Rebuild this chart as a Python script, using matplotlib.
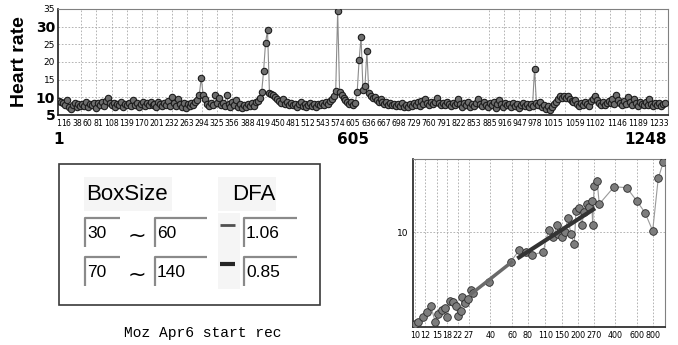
# Heart rate series, DFA log-log plot and box-size panel

import matplotlib
matplotlib.use('Agg')
import matplotlib.pyplot as plt
import numpy as np
from matplotlib.patches import Rectangle
from matplotlib.ticker import NullLocator

# heart rate, one value per 4 samples (sample 1 .. 1245)
hr = [
    9.0, 8.7, 8.4, 7.8, 9.2, 7.4, 6.6, 7.9, 8.3, 7.2, 8.1, 7.6,
    8.2, 7.5, 8.6, 7.3, 8.0, 7.7, 8.4, 7.1, 8.3, 7.9, 8.7, 7.6,
    9.1, 9.7, 8.5, 7.8, 8.4, 7.3, 8.1, 7.9, 8.6, 7.2, 8.2, 7.7,
    8.4, 7.6, 9.3, 7.8, 8.5, 7.4, 8.0, 8.7, 7.5, 8.3, 7.9, 8.6,
    7.7, 8.2, 7.4, 8.8, 8.1, 7.6, 8.4, 7.8, 8.9, 7.5, 10.0, 8.3,
    7.6, 9.6, 8.0, 7.2, 8.5, 6.9, 8.1, 7.5, 8.4, 7.8, 8.8, 9.2,
    10.8, 15.5, 10.6, 9.4, 8.2, 7.6, 8.5, 7.9, 10.7, 8.3, 9.9, 7.7,
    8.4, 7.5, 10.6, 8.0, 7.3, 8.6, 7.8, 9.2, 7.4, 8.1, 7.0, 7.8,
    7.2, 8.0, 7.5, 8.3, 7.6, 8.8, 9.1, 9.8, 11.5, 17.5, 25.5, 29.0,
    11.2, 11.0, 10.6, 10.2, 9.5, 9.0, 8.5, 9.4, 8.0, 8.7, 7.8, 8.4,
    7.7, 8.2, 7.4, 8.0, 8.6, 7.5, 8.1, 7.3, 7.9, 8.4, 7.6, 8.2,
    7.4, 8.0, 7.7, 8.3, 7.9, 8.6, 8.2, 9.0, 9.6, 10.5, 11.8, 34.5,
    11.5, 10.6, 9.8, 9.2, 8.6, 8.0, 8.8, 7.9, 8.5, 11.4, 20.5, 27.0,
    12.0, 13.2, 23.0, 11.3, 10.4, 9.7, 10.1, 9.2, 8.8, 9.4, 8.6, 8.1,
    8.7, 7.9, 8.4, 7.7, 8.2, 7.5, 8.0, 7.6, 8.3, 7.4, 7.9, 7.2,
    8.1, 7.6, 8.4, 7.8, 8.6, 7.5, 8.9, 8.2, 9.6, 8.4, 7.9, 8.6,
    8.1, 8.8, 9.7, 8.3, 7.8, 8.5, 7.9, 8.7, 8.2, 7.6, 8.4, 7.8,
    8.5, 9.5, 8.0, 7.4, 8.3, 7.7, 8.6, 7.2, 8.1, 7.6, 8.4, 9.4,
    8.2, 7.5, 8.7, 7.9, 7.3, 8.4, 7.8, 8.6, 7.1, 8.2, 9.3, 8.0,
    7.4, 8.5, 7.7, 8.1, 7.3, 8.4, 7.6, 8.2, 7.0, 7.8, 8.3, 7.5,
    8.1, 7.4, 8.0, 7.6, 18.0, 8.3, 7.8, 8.6, 7.2, 7.9, 6.8, 7.5,
    6.4, 7.3, 8.2, 8.8, 9.6, 10.4, 9.8, 10.5, 9.9, 10.3, 9.4, 9.0,
    8.6, 9.2, 8.1, 7.6, 8.4, 7.9, 8.7, 8.2, 7.5, 8.9, 9.6, 10.4,
    9.3, 8.5, 7.9, 8.6, 7.7, 8.3, 9.0, 8.4, 9.5, 8.1, 10.6, 9.2,
    8.3, 7.8, 8.9, 8.2, 10.2, 8.7, 7.9, 9.4, 8.5, 7.6, 8.8, 8.1,
    7.7, 8.6, 7.8, 9.6, 8.2, 7.5, 8.3, 7.9, 8.4, 7.6, 8.1, 8.5,
]
hr_ticks = [1, 16, 38, 60, 81, 108, 139, 170, 201, 232, 263, 294, 325, 356,
            388, 419, 450, 481, 512, 543, 574, 605, 636, 667, 698, 729, 760,
            791, 822, 853, 885, 916, 947, 978, 1015, 1059, 1102, 1146, 1189,
            1233]
hr_marks = [1, 605, 1248]
hr_yticks = [5, 10, 15, 20, 25, 30, 35]
bold_y = [5, 10, 30]

# DFA: box size n and fluctuation F(n)
dfa_n = [10, 10.6, 11.5, 12.5, 13.4, 14.5, 15.4, 16.3, 17.4, 18.1, 19.1, 20.2,
         21.3, 22.2, 23.2, 23.9, 25.3, 26.4, 28.1, 28.9, 38.8, 58.3, 68.4, 77.2,
         87, 106, 117, 128, 136, 140, 149, 159, 167, 177, 188, 194, 205, 216,
         225, 239, 247, 259, 264, 271, 286, 298, 392, 494, 593, 693, 797, 883,
         968]
dfa_F = [1.03, 1.07, 1.21, 1.39, 1.60, 1.08, 1.31, 1.45, 1.51, 1.23, 1.81, 1.75,
         1.60, 1.25, 1.42, 2.0, 1.74, 1.89, 2.38, 2.22, 2.90, 4.80, 6.40, 6.14,
         5.66, 6.14, 10.5, 8.77, 11.9, 9.44, 8.91, 10.1, 14.0, 9.5, 7.38, 16.8,
         18.2, 11.9, 16.5, 20.0, 18.7, 21.7, 11.8, 31.3, 35.6, 20.0, 30.7, 30.0,
         21.7, 16.1, 10.3, 37.8, 56.1]
fit1_n = [28, 59]
fit1_F = [2.15, 4.72]
fit2_n = [68, 267]
fit2_F = [5.34, 17.5]
dfa_ticks = [10, 12, 15, 18, 22, 27, 40, 60, 80, 110, 150, 200, 270, 400, 600, 800]

box_rows = [('30', '60', '1.06'), ('70', '140', '0.85')]

W, H = 678, 345
fig = plt.figure(figsize=(W / 100, H / 100), dpi=100)
fig.patch.set_facecolor('white')

narrow = 'Liberation Sans Narrow'
grid_kw = dict(color='#a8a8a8', lw=0.6, ls=(0, (2, 2)))

# ---- panel with box sizes (pixel coordinates) ----
ui = fig.add_axes([0, 0, 1, 1])
ui.set_xlim(0, W)
ui.set_ylim(H, 0)
ui.axis('off')

ui.add_patch(Rectangle((59, 164), 261, 141, fill=False, ec='#3a3a3a', lw=1.2))
ui.add_patch(Rectangle((84, 177), 88, 34, fc='#f5f5f5', ec='none'))
ui.add_patch(Rectangle((218, 177), 58, 34, fc='#f5f5f5', ec='none'))
ui.add_patch(Rectangle((218, 213), 22, 76, fc='#f5f5f5', ec='none'))
ui.text(86, 194, 'BoxSize', fontsize=16, family='Liberation Sans', va='center')
ui.text(232, 194, 'DFA', fontsize=16, family='Liberation Sans', va='center')


def field(x0, x1, y0, y1, txt):
    ui.add_patch(Rectangle((x0, y0), x1 - x0, y1 - y0, fc='white', ec='none'))
    ui.plot([x0, x0, x1], [y1, y0, y0], color='#8a8a8a', lw=1.6,
            solid_capstyle='butt')
    ui.text(x0 + 2, (y0 + y1) / 2 + 1, txt, fontsize=12.5,
            family='Liberation Sans', va='center', ha='left')


for k, (a, b, d) in enumerate(box_rows):
    y0 = 218 + k * 39
    field(85, 120, y0, y0 + 29, a)
    field(155, 207, y0, y0 + 29, b)
    field(244, 297, y0, y0 + 29, d)
    ui.text(137, y0 + 18, '~', fontsize=16, ha='center', va='center')
    ui.plot([220, 235], [y0 + 7, y0 + 7], color='#505050' if k == 0 else '#252525',
            lw=2.0 if k == 0 else 3.0, solid_capstyle='butt')

ui.text(203, 333, 'Moz Apr6 start rec', fontsize=10.5, family='Liberation Mono',
        ha='center', va='center')

# ---- heart rate series ----
ax = fig.add_axes([58 / W, 1 - 115 / H, 610 / W, 106 / H])
x = 1 + 4 * np.arange(len(hr))
ax.plot(x, hr, color='#8c8c8c', lw=0.8, marker='o', ms=4.6, mfc='#6e6e6e',
        mec='#1c1c1c', mew=0.8, zorder=3)
ax.set_xlim(-1, 1251)
ax.set_ylim(5, 35)
ax.set_xticks(hr_ticks)
ax.set_xticklabels([str(t) for t in hr_ticks], fontsize=5.6, family=narrow)
ax.set_xticks(np.arange(16, 1249, 31), minor=True)
ax.tick_params(axis='x', which='both', length=0, pad=3)
ax.set_yticks(hr_yticks)
ax.set_yticklabels([str(t) for t in hr_yticks], family=narrow)
for lab, t in zip(ax.get_yticklabels(), hr_yticks):
    if t in bold_y:
        lab.set_fontsize(10)
        lab.set_fontweight('bold')
    else:
        lab.set_fontsize(6.5)
ax.tick_params(axis='y', length=0, pad=2)
ax.xaxis.grid(True, which='minor', **grid_kw)
ax.yaxis.grid(True, which='major', **grid_kw)
ax.set_axisbelow(True)
for side in ['top', 'right']:
    ax.spines[side].set_color('#808080')
    ax.spines[side].set_linewidth(0.8)
for side in ['left', 'bottom']:
    ax.spines[side].set_color('#202020')
    ax.spines[side].set_linewidth(1.2)

for m in hr_marks:
    ax.text(m, -0.235, str(m), transform=ax.get_xaxis_transform(),
            ha='right' if m == hr_marks[-1] else 'center', va='center',
            fontsize=11, fontweight='bold', family=narrow)

fig.text(20 / W, 1 - 62 / H, 'Heart rate', rotation=90, fontsize=14,
         fontweight='bold', family='Liberation Sans', ha='center', va='center')

# ---- DFA log-log ----
ax2 = fig.add_axes([413 / W, 1 - 327 / H, 252 / W, 168 / H])
ax2.set_xscale('log')
ax2.set_yscale('log')
ax2.plot(dfa_n, dfa_F, color='#9a9a9a', lw=0.8, marker='o', ms=5.5,
         mfc='#7d7d7d', mec='#2a2a2a', mew=0.6, zorder=3)
ax2.plot(fit1_n, fit1_F, color='#6a6a6a', lw=2.5, zorder=4)
ax2.plot(fit2_n, fit2_F, color='#333333', lw=3, zorder=4)
ax2.set_xlim(9.64, 1000)
ax2.set_ylim(0.952, 61)
ax2.set_xticks(dfa_ticks)
ax2.set_xticklabels([str(t) for t in dfa_ticks], fontsize=5.8, family=narrow)
ax2.xaxis.set_minor_locator(NullLocator())
ax2.set_yticks([10])
ax2.set_yticklabels(['10'], fontsize=6.5, family=narrow)
ax2.yaxis.set_minor_locator(NullLocator())
ax2.tick_params(length=0, pad=3)
ax2.grid(True, which='major', **grid_kw)
ax2.set_axisbelow(True)
for side in ['top', 'right']:
    ax2.spines[side].set_color('#808080')
    ax2.spines[side].set_linewidth(0.8)
for side in ['left', 'bottom']:
    ax2.spines[side].set_color('#202020')
    ax2.spines[side].set_linewidth(1.2)

fig.savefig('out.png', dpi=100, facecolor='white')
